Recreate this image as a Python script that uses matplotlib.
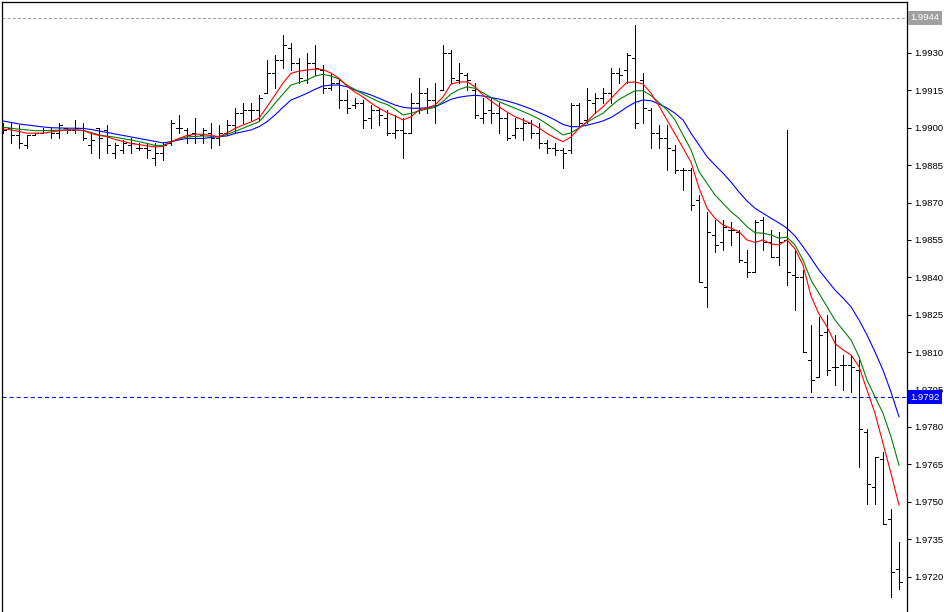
import matplotlib
matplotlib.use('Agg')
import matplotlib.pyplot as plt
import matplotlib.transforms as mtransforms
import numpy as np

plt.rcParams['lines.scale_dashes'] = False
plt.rcParams['font.family'] = ['Liberation Sans', 'DejaVu Sans']

# OHLC bars (4-digit quotes)
opens = [1.9900, 1.9900, 1.9897, 1.9893, 1.9897, 1.9898, 1.9899, 1.9898, 1.9900, 1.9899,
         1.9900, 1.9893, 1.9900, 1.9899, 1.9890, 1.9891, 1.9893, 1.9892, 1.9892, 1.9888,
         1.9890, 1.9894, 1.9900, 1.9899, 1.9898, 1.9897, 1.9898, 1.9896, 1.9898, 1.9901,
         1.9906, 1.9907, 1.9907, 1.9914, 1.9922, 1.9927, 1.9932, 1.9926, 1.9919, 1.9926,
         1.9923, 1.9916, 1.9918, 1.9911, 1.9909, 1.9910, 1.9904, 1.9907, 1.9904, 1.9898,
         1.9899, 1.9898, 1.9910, 1.9914, 1.9911, 1.9915, 1.9930, 1.9919, 1.9921, 1.9915,
         1.9904, 1.9907, 1.9906, 1.9904, 1.9897, 1.9900, 1.9902, 1.9898, 1.9894, 1.9892,
         1.9891, 1.9891, 1.9909, 1.9903, 1.9910, 1.9912, 1.9914, 1.9922, 1.9923, 1.9928,
         1.9919, 1.9907, 1.9898, 1.9896, 1.9891, 1.9883, 1.9883, 1.9871, 1.9836, 1.9857,
         1.9854, 1.9859, 1.9858, 1.9846, 1.9842, 1.9863, 1.9854, 1.9848, 1.9855, 1.9841,
         1.9840, 1.9807, 1.9800, 1.9818, 1.9804, 1.9805, 1.9805, 1.9803, 1.9778, 1.9756,
         1.9767, 1.9743, 1.9723]
highs = [1.9902, 1.9902, 1.9901, 1.9897, 1.9898, 1.9900, 1.9900, 1.9902, 1.9900, 1.9903,
         1.9902, 1.9898, 1.9900, 1.9901, 1.9894, 1.9895, 1.9896, 1.9894, 1.9894, 1.9894,
         1.9894, 1.9903, 1.9905, 1.9900, 1.9904, 1.9900, 1.9902, 1.9901, 1.9903, 1.9908,
         1.9910, 1.9910, 1.9913, 1.9927, 1.9929, 1.9937, 1.9934, 1.9928, 1.9930, 1.9933,
         1.9925, 1.9922, 1.9920, 1.9915, 1.9912, 1.9911, 1.9909, 1.9908, 1.9907, 1.9905,
         1.9904, 1.9914, 1.9920, 1.9916, 1.9918, 1.9933, 1.9931, 1.9926, 1.9922, 1.9918,
         1.9912, 1.9912, 1.9910, 1.9906, 1.9904, 1.9904, 1.9903, 1.9902, 1.9895, 1.9894,
         1.9892, 1.9910, 1.9910, 1.9916, 1.9914, 1.9916, 1.9924, 1.9924, 1.9930, 1.9941,
         1.9922, 1.9908, 1.9901, 1.9901, 1.9893, 1.9884, 1.9884, 1.9873, 1.9866, 1.9863,
         1.9863, 1.9862, 1.9859, 1.9851, 1.9863, 1.9864, 1.9859, 1.9858, 1.9899, 1.9851,
         1.9843, 1.9821, 1.9824, 1.9825, 1.9817, 1.9809, 1.9809, 1.9807, 1.9779, 1.9768,
         1.9770, 1.9747, 1.9734]
lows = [1.9898, 1.9894, 1.9892, 1.9892, 1.9897, 1.9898, 1.9896, 1.9896, 1.9898, 1.9898,
        1.9895, 1.9890, 1.9888, 1.9890, 1.9888, 1.9890, 1.9890, 1.9891, 1.9888, 1.9885,
        1.9887, 1.9893, 1.9898, 1.9894, 1.9894, 1.9894, 1.9892, 1.9893, 1.9897, 1.9898,
        1.9902, 1.9903, 1.9903, 1.9914, 1.9916, 1.9924, 1.9923, 1.9918, 1.9918, 1.9921,
        1.9914, 1.9915, 1.9908, 1.9906, 1.9908, 1.9900, 1.9900, 1.9901, 1.9897, 1.9896,
        1.9888, 1.9898, 1.9906, 1.9906, 1.9902, 1.9915, 1.9918, 1.9918, 1.9915, 1.9904,
        1.9902, 1.9902, 1.9898, 1.9895, 1.9896, 1.9895, 1.9896, 1.9892, 1.9890, 1.9889,
        1.9884, 1.9890, 1.9901, 1.9902, 1.9906, 1.9910, 1.9910, 1.9918, 1.9918, 1.9900,
        1.9902, 1.9892, 1.9892, 1.9883, 1.9882, 1.9875, 1.9867, 1.9838, 1.9828, 1.9850,
        1.9851, 1.9853, 1.9846, 1.9840, 1.9842, 1.9851, 1.9848, 1.9845, 1.9837, 1.9827,
        1.9810, 1.9794, 1.9800, 1.9801, 1.9797, 1.9795, 1.9794, 1.9764, 1.9749, 1.9749,
        1.9741, 1.9712, 1.9715]
closes = [1.9899, 1.9897, 1.9894, 1.9897, 1.9898, 1.9899, 1.9898, 1.9901, 1.9899, 1.9900,
          1.9896, 1.9895, 1.9896, 1.9893, 1.9893, 1.9894, 1.9894, 1.9892, 1.9891, 1.9890,
          1.9893, 1.9902, 1.9900, 1.9897, 1.9896, 1.9899, 1.9896, 1.9898, 1.9901, 1.9906,
          1.9907, 1.9907, 1.9912, 1.9922, 1.9927, 1.9933, 1.9926, 1.9920, 1.9926, 1.9924,
          1.9916, 1.9918, 1.9911, 1.9908, 1.9910, 1.9903, 1.9907, 1.9905, 1.9898, 1.9899,
          1.9898, 1.9910, 1.9914, 1.9911, 1.9909, 1.9930, 1.9920, 1.9922, 1.9919, 1.9905,
          1.9906, 1.9906, 1.9904, 1.9896, 1.9900, 1.9902, 1.9898, 1.9894, 1.9892, 1.9891,
          1.9890, 1.9909, 1.9902, 1.9911, 1.9912, 1.9914, 1.9922, 1.9921, 1.9929, 1.9902,
          1.9908, 1.9898, 1.9896, 1.9892, 1.9883, 1.9883, 1.9869, 1.9838, 1.9858, 1.9853,
          1.9860, 1.9859, 1.9847, 1.9842, 1.9862, 1.9854, 1.9848, 1.9854, 1.9842, 1.9840,
          1.9810, 1.9799, 1.9817, 1.9803, 1.9804, 1.9805, 1.9804, 1.9779, 1.9757, 1.9768,
          1.9741, 1.9722, 1.9718]

# moving averages
ma_red = [1.98995, 1.98991, 1.98985, 1.98978, 1.98978, 1.98978, 1.98983, 1.98987, 1.98991, 1.98991,
          1.98989, 1.98977, 1.98969, 1.98964, 1.98953, 1.98945, 1.98937, 1.98932, 1.98927, 1.98923,
          1.98925, 1.98943, 1.98957, 1.98969, 1.98974, 1.98974, 1.98969, 1.98964, 1.98979, 1.98997,
          1.99011, 1.99023, 1.99038, 1.99084, 1.99131, 1.99179, 1.99218, 1.99227, 1.99231, 1.99235,
          1.99233, 1.99219, 1.99198, 1.99167, 1.99143, 1.99123, 1.99099, 1.99078, 1.99061, 1.99047,
          1.99031, 1.99044, 1.99071, 1.99079, 1.99091, 1.99123, 1.99175, 1.99183, 1.99184, 1.99164,
          1.99131, 1.99107, 1.99084, 1.99063, 1.99044, 1.99031, 1.99017, 1.98999, 1.98977, 1.98959,
          1.98944, 1.98963, 1.98997, 1.99025, 1.99057, 1.99084, 1.99117, 1.99151, 1.99182, 1.99183,
          1.99175, 1.99139, 1.99087, 1.99031, 1.98975, 1.98919, 1.98862, 1.98758, 1.98678, 1.98637,
          1.98610, 1.98597, 1.98583, 1.98550, 1.98540, 1.98550, 1.98534, 1.98530, 1.98550, 1.98514,
          1.98449, 1.98325, 1.98253, 1.98202, 1.98135, 1.98109, 1.98089, 1.98042, 1.97948, 1.97855,
          1.97734, 1.97614, 1.97487]
ma_green = [1.99002, 1.98998, 1.98994, 1.98991, 1.98988, 1.98988, 1.98989, 1.98990, 1.98991, 1.98991,
            1.98989, 1.98981, 1.98971, 1.98966, 1.98962, 1.98956, 1.98951, 1.98944, 1.98937, 1.98929,
            1.98929, 1.98943, 1.98955, 1.98963, 1.98965, 1.98967, 1.98966, 1.98964, 1.98973, 1.98985,
            1.98998, 1.99011, 1.99024, 1.99059, 1.99098, 1.99135, 1.99171, 1.99181, 1.99191, 1.99207,
            1.99214, 1.99207, 1.99195, 1.99171, 1.99153, 1.99135, 1.99119, 1.99104, 1.99093, 1.99075,
            1.99051, 1.99058, 1.99067, 1.99075, 1.99082, 1.99105, 1.99135, 1.99153, 1.99164, 1.99158,
            1.99140, 1.99121, 1.99104, 1.99091, 1.99078, 1.99065, 1.99051, 1.99035, 1.99015, 1.98993,
            1.98971, 1.98979, 1.98999, 1.99021, 1.99041, 1.99058, 1.99087, 1.99113, 1.99131, 1.99148,
            1.99148, 1.99129, 1.99101, 1.99071, 1.99031, 1.98971, 1.98911, 1.98824, 1.98777, 1.98730,
            1.98697, 1.98663, 1.98637, 1.98603, 1.98579, 1.98577, 1.98570, 1.98557, 1.98561, 1.98530,
            1.98469, 1.98389, 1.98336, 1.98282, 1.98229, 1.98189, 1.98149, 1.98082, 1.97988, 1.97921,
            1.97855, 1.97761, 1.97647]
ma_blue = [1.99027, 1.99021, 1.99015, 1.99011, 1.99007, 1.99003, 1.99000, 1.98999, 1.98998, 1.98998,
           1.98997, 1.98993, 1.98987, 1.98981, 1.98975, 1.98969, 1.98963, 1.98957, 1.98951, 1.98945,
           1.98939, 1.98944, 1.98951, 1.98957, 1.98957, 1.98957, 1.98961, 1.98964, 1.98967, 1.98977,
           1.98984, 1.98991, 1.99004, 1.99024, 1.99051, 1.99082, 1.99111, 1.99124, 1.99138, 1.99154,
           1.99167, 1.99171, 1.99171, 1.99164, 1.99151, 1.99142, 1.99131, 1.99118, 1.99104, 1.99091,
           1.99082, 1.99078, 1.99078, 1.99080, 1.99084, 1.99098, 1.99114, 1.99122, 1.99127, 1.99130,
           1.99127, 1.99121, 1.99115, 1.99107, 1.99098, 1.99087, 1.99075, 1.99061, 1.99047, 1.99031,
           1.99013, 1.99004, 1.99004, 1.99010, 1.99018, 1.99027, 1.99041, 1.99061, 1.99083, 1.99101,
           1.99111, 1.99108, 1.99095, 1.99079, 1.99058, 1.99031, 1.98978, 1.98931, 1.98884, 1.98850,
           1.98818, 1.98782, 1.98742, 1.98706, 1.98677, 1.98657, 1.98637, 1.98618, 1.98597, 1.98566,
           1.98523, 1.98477, 1.98429, 1.98389, 1.98349, 1.98317, 1.98282, 1.98229, 1.98169, 1.98101,
           1.98028, 1.97940, 1.97841]

price_ticks = [1.9705, 1.9720, 1.9735, 1.9750, 1.9765, 1.9780, 1.9795, 1.9810, 1.9825,
               1.9840, 1.9855, 1.9870, 1.9885, 1.9900, 1.9915, 1.9930]
high_line = 1.9944
bid_line = 1.9792

fig = plt.figure(figsize=(9.45, 6.12), dpi=100)
ax = fig.add_axes([2 / 945, -13 / 612, 905 / 945, 623 / 612])

x = np.arange(len(closes))
ax.vlines(x, lows, highs, color='black', lw=0.7, antialiased=False, zorder=3)
ax.hlines(opens, x - 0.32, x, color='black', lw=0.7, antialiased=False, zorder=3)
ax.hlines(closes, x, x + 0.32, color='black', lw=0.7, antialiased=False, zorder=3)

ax.plot(x, ma_blue, color='#0000ff', lw=0.8, zorder=4)
ax.plot(x, ma_green, color='#008000', lw=0.8, zorder=4)
ax.plot(x, ma_red, color='#ff0000', lw=0.8, zorder=4)

ax.axhline(high_line, color='#a0a0a0', lw=0.75, ls=(0, (2.2, 1.5)), zorder=2)
ax.axhline(bid_line, color='#0000ff', lw=0.75, ls=(0, (2.9, 2.2)), zorder=2)

ax.set_xlim(-0.125, 113)
ax.set_ylim(1.97006, 1.99504)
ax.set_xticks([])
ax.yaxis.tick_right()
ax.set_yticks(price_ticks)
ax.set_yticklabels([f'{v:.4f}' for v in price_ticks])
ax.tick_params(axis='y', length=3, width=0.75, pad=2, labelsize=6.8, colors='black')
for side in ['left', 'top', 'right']:
    ax.spines[side].set_linewidth(0.9)
    ax.spines[side].set_color('black')
ax.spines['bottom'].set_visible(False)

trans = mtransforms.blended_transform_factory(ax.transAxes, ax.transData)
ax.text(1.0 + 3.5 / 905, high_line, f'{high_line:.4f}', transform=trans, ha='left', va='center',
        color='white', fontsize=6.8, clip_on=False, zorder=6,
        bbox=dict(boxstyle='square,pad=0.25', fc='#a0a0a0', ec='none'))
ax.text(1.0 + 3.5 / 905, bid_line, f'{bid_line:.4f}', transform=trans, ha='left', va='center',
        color='white', fontsize=6.8, clip_on=False, zorder=6,
        bbox=dict(boxstyle='square,pad=0.25', fc='#0000ff', ec='none'))

fig.savefig('out.png', dpi=100, facecolor='white')
